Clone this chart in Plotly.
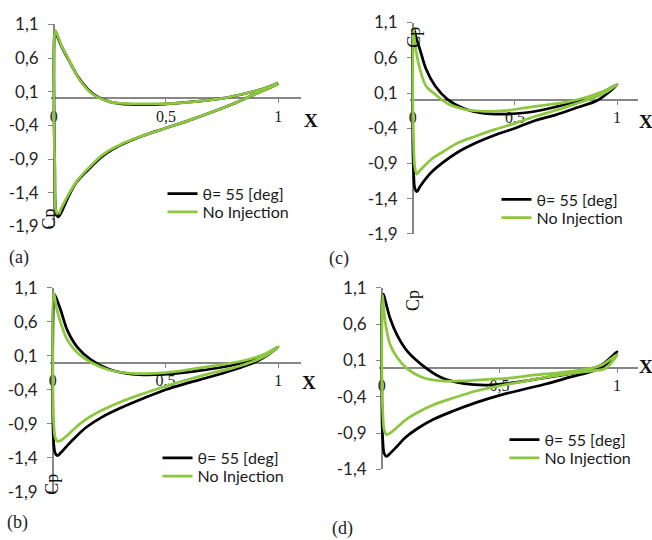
import plotly.graph_objects as go

# Chordwise stations (x/c) for the two branches of each Cp loop
x_pressure = [0, 0.003, 0.007, 0.015, 0.035, 0.065, 0.11, 0.17, 0.25, 0.35,
              0.45, 0.55, 0.65, 0.75, 0.85, 0.93, 1.0]
x_suction = [0, 0.004, 0.01, 0.02, 0.035, 0.065, 0.1, 0.15, 0.22, 0.3,
             0.4, 0.5, 0.6, 0.7, 0.8, 0.9, 0.95, 1.0]

# Case (a)
a_inj_p = [0.35, 0.95, 1.0, 0.93, 0.77, 0.58, 0.31, 0.08, -0.05, -0.09,
           -0.09, -0.07, -0.04, 0.0, 0.07, 0.14, 0.23]
a_inj_s = [0.35, -1.0, -1.7, -1.76, -1.68, -1.46, -1.25, -1.07, -0.85, -0.69,
           -0.55, -0.44, -0.33, -0.21, -0.08, 0.07, 0.14, 0.22]
a_base_p = [0.15, 0.95, 1.01, 0.95, 0.78, 0.59, 0.30, 0.07, -0.05, -0.08,
            -0.08, -0.07, -0.04, 0.0, 0.07, 0.14, 0.23]
a_base_s = [0.15, -1.0, -1.68, -1.72, -1.62, -1.43, -1.24, -1.05, -0.83, -0.68,
            -0.55, -0.44, -0.33, -0.21, -0.08, 0.07, 0.14, 0.22]

# Case (b)
b_inj_p = [-0.8, 0.9, 1.0, 0.95, 0.77, 0.47, 0.22, 0.04, -0.10, -0.17,
           -0.18, -0.16, -0.12, -0.07, 0.0, 0.09, 0.23]
b_inj_s = [-0.8, -1.2, -1.33, -1.37, -1.33, -1.22, -1.1, -0.95, -0.80, -0.67,
           -0.53, -0.40, -0.30, -0.21, -0.11, 0.01, 0.1, 0.23]
b_base_p = [-0.3, 1.02, 0.98, 0.82, 0.58, 0.33, 0.14, 0.0, -0.11, -0.16,
            -0.16, -0.13, -0.08, -0.03, 0.03, 0.11, 0.23]
b_base_s = [-0.3, -0.9, -1.1, -1.16, -1.15, -1.07, -0.96, -0.83, -0.70, -0.58,
            -0.46, -0.35, -0.25, -0.16, -0.08, 0.03, 0.11, 0.23]

# Case (c)
c_inj_p = [-0.45, 0.98, 1.0, 0.9, 0.72, 0.44, 0.2, 0.01, -0.12, -0.19,
           -0.20, -0.18, -0.13, -0.06, 0.03, 0.11, 0.22]
c_inj_s = [-0.45, -1.0, -1.25, -1.3, -1.23, -1.11, -1.0, -0.88, -0.74, -0.62,
           -0.5, -0.40, -0.29, -0.21, -0.11, -0.01, 0.09, 0.22]
c_base_p = [0.0, 1.02, 0.9, 0.72, 0.44, 0.2, 0.08, -0.05, -0.13, -0.16,
            -0.15, -0.11, -0.07, -0.03, 0.04, 0.12, 0.22]
c_base_s = [0.0, -0.6, -0.95, -1.05, -1.0, -0.91, -0.82, -0.73, -0.61, -0.52,
            -0.42, -0.33, -0.23, -0.145, -0.05, 0.05, 0.12, 0.22]

# Case (d)
d_inj_p = [-0.4, 0.98, 1.01, 0.92, 0.68, 0.45, 0.22, 0.04, -0.13, -0.22,
           -0.24, -0.21, -0.16, -0.11, -0.05, 0.03, 0.22]
d_inj_s = [-0.4, -1.0, -1.18, -1.22, -1.18, -1.08, -0.96, -0.84, -0.71, -0.6,
           -0.48, -0.38, -0.3, -0.22, -0.13, -0.04, 0.04, 0.22]
d_base_p = [0.0, 1.0, 0.85, 0.62, 0.32, 0.14, -0.02, -0.13, -0.18, -0.18,
            -0.16, -0.14, -0.1, -0.07, -0.03, 0.03, 0.18]
d_base_s = [0.0, -0.6, -0.86, -0.92, -0.9, -0.82, -0.72, -0.62, -0.51, -0.42,
            -0.32, -0.25, -0.19, -0.13, -0.08, -0.04, -0.01, 0.18]

series_names = ["θ= 55 [deg]", "No Injection"]
y_ticks_full = [-1.9, -1.4, -0.9, -0.4, 0.1, 0.6, 1.1]
y_ticks_short = [-1.4, -0.9, -0.4, 0.1, 0.6, 1.1]
x_ticks = [0, 0.5, 1]

W, H = 652, 540
BLACK = "#000000"
GREEN = "#8DC63F"
GRAY = "#868686"
SANS = "Lato"
SERIF = "Liberation Serif"


def comma(v):
    return ("%g" % v).replace(".", ",")


def loop(p_vals, s_vals):
    # trailing edge -> leading edge along the pressure side, then back along the suction side
    xs = list(reversed(x_pressure)) + x_suction[1:]
    ys = list(reversed(p_vals)) + s_vals[1:]
    return xs, ys


# panel layout: pixel column of x=0, pixels per unit chord, pixel rows of the Cp range ends;
# lab = (centre x, top y) of the panel tag
panels = [
    dict(tag="(a)", inj=(a_inj_p, a_inj_s), base=(a_base_p, a_base_s),
         x0=52, xs=225, ytop=14, ybot=224, ymin=-1.9, xmax=1.1,
         cp=(47, 216), X=(310, 114), lab=(17, 243), leg=(161, 190, 209)),
    dict(tag="(c)", inj=(c_inj_p, c_inj_s), base=(c_base_p, c_base_s),
         x0=412, xs=205, ytop=12, ybot=232, ymin=-1.9, xmax=1.1,
         cp=(413, 27), X=(646, 115), lab=(338, 244), leg=(496, 196, 215)),
    dict(tag="(b)", inj=(b_inj_p, b_inj_s), base=(b_base_p, b_base_s),
         x0=51, xs=226, ytop=288, ybot=500, ymin=-1.9, xmax=1.1,
         cp=(50, 492), X=(308, 387), lab=(16, 519), leg=(156, 465, 484)),
    dict(tag="(d)", inj=(d_inj_p, d_inj_s), base=(d_base_p, d_base_s),
         x0=381, xs=236, ytop=288, ybot=477, ymin=-1.4, xmax=1.09,
         cp=(413, 301), X=(646, 370), lab=(342, 525), leg=(504, 446, 465)),
]

fig = go.Figure()
annotations = []
layout = {}
XMIN = -0.012

for i, p in enumerate(panels):
    n = i + 1
    xa = "xaxis" if n == 1 else f"xaxis{n}"
    ya = "yaxis" if n == 1 else f"yaxis{n}"
    xr = "x" if n == 1 else f"x{n}"
    yr = "y" if n == 1 else f"y{n}"

    left = p["x0"] + XMIN * p["xs"]
    right = p["x0"] + p["xmax"] * p["xs"]
    ymax = 1.1
    yspan = ymax - p["ymin"]
    y0_px = p["ytop"] + (ymax - 0) / yspan * (p["ybot"] - p["ytop"])

    ticks = y_ticks_full if p["ymin"] < -1.5 else y_ticks_short

    layout[xa] = dict(
        domain=[left / W, right / W], range=[XMIN, p["xmax"]],
        anchor="free", position=1 - y0_px / H,
        showline=True, linecolor=GRAY, linewidth=2,
        ticks="outside", ticklen=4, tickcolor=GRAY, tickwidth=1,
        tickvals=x_ticks, ticktext=[comma(v) for v in x_ticks],
        tickfont=dict(family=SERIF, size=16, color="#222222"),
        ticklabelstandoff=-1,
        showgrid=False, zeroline=False, layer="below traces", fixedrange=True,
    )
    layout[ya] = dict(
        domain=[1 - p["ybot"] / H, 1 - p["ytop"] / H], range=[p["ymin"], ymax],
        anchor="free", position=p["x0"] / W,
        showline=True, linecolor=GRAY, linewidth=1.5,
        ticks="outside", ticklen=5, tickcolor=GRAY, tickwidth=1,
        tickvals=ticks, ticktext=[comma(v) for v in ticks],
        tickfont=dict(family=SANS, size=17, color="#262626"),
        ticklabelstandoff=6,
        showgrid=False, zeroline=False, layer="below traces", fixedrange=True,
    )

    for k, (vals, color, name) in enumerate([(p["inj"], BLACK, series_names[0]),
                                             (p["base"], GREEN, series_names[1])]):
        xs, ys = loop(*vals)
        leg_id = "legend" if (2 * i + k) == 0 else f"legend{2 * i + k + 1}"
        fig.add_trace(go.Scatter(
            x=xs, y=ys, mode="lines", name=name,
            line=dict(color=color, width=2.75, shape="spline", smoothing=0.9),
            xaxis=xr, yaxis=yr, legend=leg_id, showlegend=True,
        ))
        ly = p["leg"][1 + k]
        layout[leg_id] = dict(
            x=p["leg"][0] / W, y=1 - ly / H, xanchor="left", yanchor="middle",
            bgcolor="rgba(0,0,0,0)", borderwidth=0,
            font=dict(family=SANS, size=16, color="#1a1a1a"),
        )

    annotations.append(dict(
        text="Cp", x=p["cp"][0] / W, y=1 - p["cp"][1] / H,
        xref="paper", yref="paper", xanchor="center", yanchor="middle",
        showarrow=False, textangle=-90,
        font=dict(family=SERIF, size=18, color="#111111"),
    ))
    annotations.append(dict(
        text="<b>X</b>", x=p["X"][0] / W, y=1 - p["X"][1] / H,
        xref="paper", yref="paper", xanchor="center", yanchor="middle",
        showarrow=False,
        font=dict(family=SERIF, size=19, color="#111111"),
    ))
    annotations.append(dict(
        text=p["tag"], x=p["lab"][0] / W, y=1 - p["lab"][1] / H,
        xref="paper", yref="paper", xanchor="center", yanchor="top",
        showarrow=False,
        font=dict(family=SERIF, size=18, color="#222222"),
    ))

fig.update_layout(
    width=W, height=H, margin=dict(l=0, r=0, t=0, b=0),
    paper_bgcolor="white", plot_bgcolor="white",
    separators=", ", annotations=annotations, **layout,
)

fig.write_html("out.html")
